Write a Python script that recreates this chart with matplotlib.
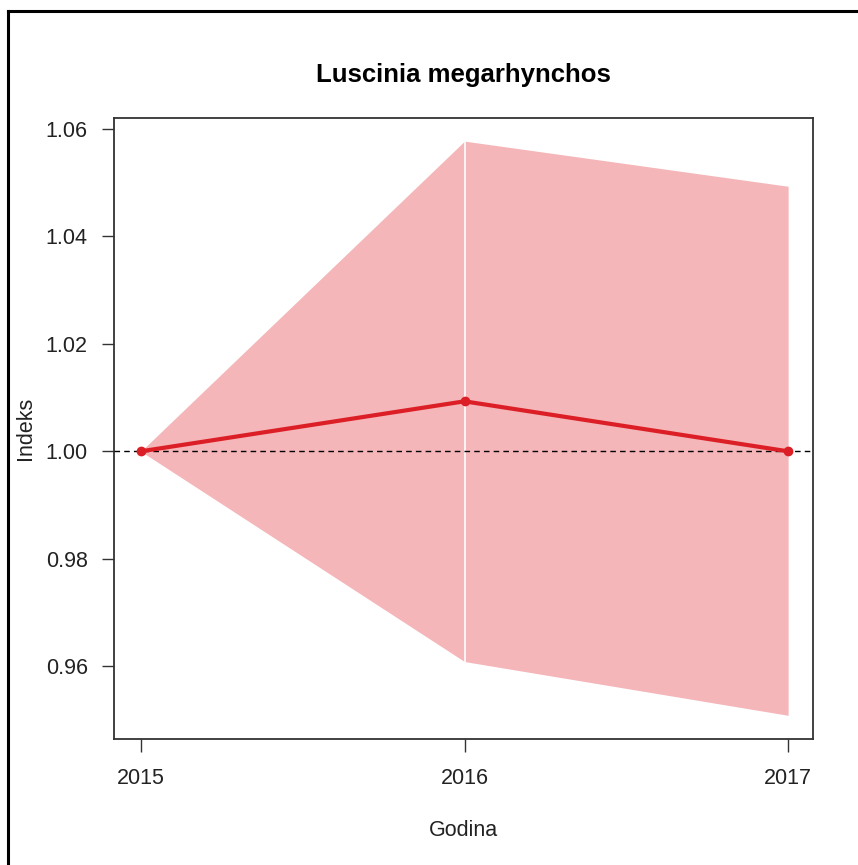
import matplotlib
matplotlib.use("Agg")
import matplotlib.pyplot as plt
from matplotlib.lines import Line2D

# values
years = [2015, 2016, 2017]
index = [1.000, 1.0093, 1.000]
lower = [1.000, 0.9609, 0.9509]
upper = [1.000, 1.0577, 1.0493]
yticks = [0.96, 0.98, 1.00, 1.02, 1.04, 1.06]

plt.rcParams['font.family'] = ['Liberation Sans', 'DejaVu Sans']

fig = plt.figure(figsize=(8.58, 8.65), dpi=100)
ax = fig.add_axes([0.1329, 0.1457, 0.8147, 0.7179])

band_col = '#F4B6B8'
line_col = '#DC1F26'

# band drawn per segment, leaving the thin white seam seen at 2016
for i in range(len(years) - 1):
    ax.fill_between(years[i:i + 2], lower[i:i + 2], upper[i:i + 2],
                    color=band_col, linewidth=0, zorder=1)
ax.plot([years[1], years[1]], [lower[1], upper[1]], color='white', lw=1.2, zorder=2)

ax.axhline(1.0, color='black', lw=1.0, ls=(0, (4, 3)), zorder=3)
ax.plot(years, index, color=line_col, lw=3, marker='o', ms=6, zorder=4)

ax.set_xlim(2014.917, 2017.077)
ax.set_ylim(0.9465, 1.0620)
ax.set_xticks(years)
ax.set_xticklabels([str(y) for y in years])
ax.set_yticks(yticks)
ax.set_yticklabels([f"{v:.2f}" for v in yticks])
ax.tick_params(labelsize=15.5, length=9, width=1.0, color='#333333', labelcolor='#222222')
ax.tick_params(axis='x', pad=12)
ax.tick_params(axis='y', pad=10)

for s in ax.spines.values():
    s.set_color('#333333')
    s.set_linewidth(1.3)

ax.set_title("Luscinia megarhynchos", fontsize=18.5, fontweight='bold', pad=26)
ax.set_xlabel("Godina", fontsize=15.5, labelpad=22, color='#222222')
ax.set_ylabel("Indeks", fontsize=15.5, labelpad=7, color='#222222')

# frame round the picture (only left and top edges show)
fig.add_artist(Line2D([8 / 858, 8 / 858], [0, 1 - 11 / 865], color='black', lw=2.2,
                      transform=fig.transFigure))
fig.add_artist(Line2D([8 / 858, 1], [1 - 11 / 865, 1 - 11 / 865], color='black', lw=2.2,
                      transform=fig.transFigure))

fig.savefig("out.png", dpi=100)
